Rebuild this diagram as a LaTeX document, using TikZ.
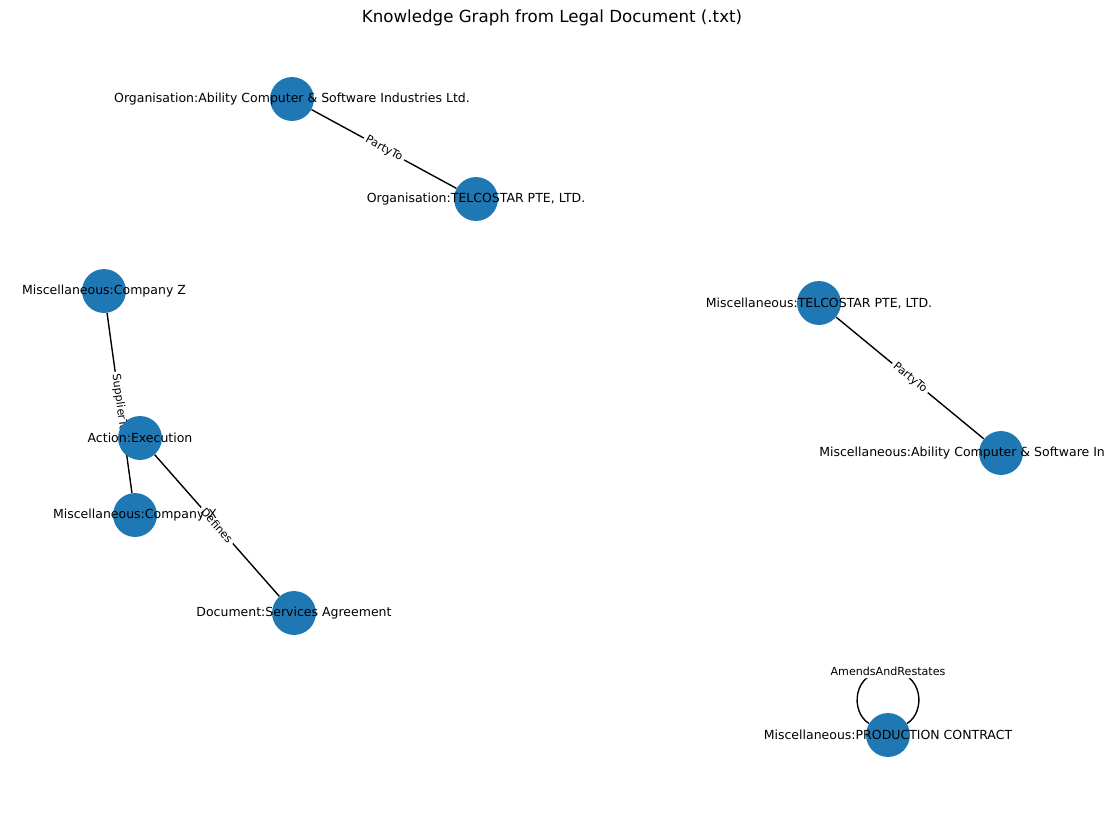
\documentclass[tikz,border=0pt]{standalone}
\usepackage{fontspec}
\setmainfont{DejaVu Sans}
\usetikzlibrary{backgrounds}
\definecolor{nodeblue}{RGB}{31,119,180}

\begin{document}
\begin{tikzpicture}[x=0.72pt,y=-0.72pt,
  ent/.style={circle,fill=nodeblue,minimum size=31.6pt,inner sep=0pt},
  enttext/.style={font=\fontsize{9}{10}\selectfont,inner sep=0pt},
  rel/.style={line width=1pt},
  reltext/.style={font=\fontsize{8}{9}\selectfont,fill=white,rounded corners=2pt,inner sep=2pt}]
\useasboundingbox (0,0) rectangle (1105,812);
\clip (0,0) rectangle (1105,812);
% title
\node[font=\fontsize{12}{14}\selectfont] (title) at (552,18) {Knowledge Graph from Legal Document (.txt)};
% entities (circles first)
\node[ent] (orgab) at (292,99) {};
\node[ent] (orgtel) at (476,199) {};
\node[ent] (compz) at (104,291) {};
\node[ent] (exec) at (140,438) {};
\node[ent] (compx) at (135,515) {};
\node[ent] (servag) at (294,613) {};
\node[ent] (misctel) at (819,303) {};
\node[ent] (miscab) at (1001,453) {};
\node[ent] (prod) at (888,735) {};
% names, printed over the circles
\node[enttext] (orgab-t) at (orgab) {Organisation:Ability Computer \& Software Industries Ltd.};
\node[enttext] (orgtel-t) at (orgtel) {Organisation:TELCOSTAR PTE, LTD.};
\node[enttext] (compz-t) at (compz) {Miscellaneous:Company Z};
\node[enttext] (exec-t) at (exec) {Action:Execution};
\node[enttext] (compx-t) at (compx) {Miscellaneous:Company X};
\node[enttext] (servag-t) at (servag) {Document:Services Agreement};
\node[enttext] (misctel-t) at (misctel) {Miscellaneous:TELCOSTAR PTE, LTD.};
\node[enttext] (miscab-t) at (miscab) {Miscellaneous:Ability Computer \& Software Industries Ltd.};
\node[enttext] (prod-t) at (prod) {Miscellaneous:PRODUCTION CONTRACT};
% relations, kept under the circles
\begin{scope}[on background layer]
\draw[rel] (orgab) -- node[reltext,sloped] (r1) {PartyTo} (orgtel);
\draw[rel] (misctel) -- node[reltext,sloped] (r2) {PartyTo} (miscab);
\draw[rel] (compz) -- node[reltext,sloped] (r3) {SupplierTo} (compx);
\draw[rel] (exec) -- node[reltext,sloped] (r4) {Defines} (servag);
% self loop, label sits on its top
\draw[rel] (prod) .. controls (850,712) and (852,671) .. (888,671)
  node[reltext] (r5) {AmendsAndRestates}
  .. controls (924,671) and (926,712) .. (prod);
\end{scope}
\end{tikzpicture}
\end{document}
